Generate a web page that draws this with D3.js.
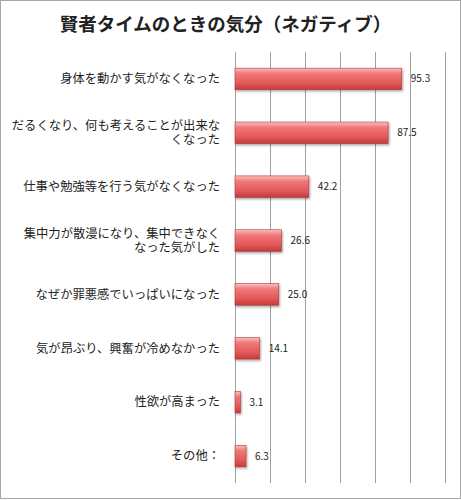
<!DOCTYPE html>
<html>
<head>
<meta charset="utf-8">
<script src="https://cdn.jsdelivr.net/npm/d3@7"></script>
<style>
  body { margin: 0; background: #fff; }
  text { font-family: "Noto Sans CJK JP", "Noto Sans", sans-serif; fill: #222; }
</style>
</head>
<body>
<div id="bar-chart"></div>
<script>
// Data
var categories = [
  ["身体を動かす気がなくなった"],
  ["だるくなり、何も考えることが出来な", "くなった"],
  ["仕事や勉強等を行う気がなくなった"],
  ["集中力が散漫になり、集中できなく", "なった気がした"],
  ["なぜか罪悪感でいっぱいになった"],
  ["気が昂ぶり、興奮が冷めなかった"],
  ["性欲が高まった"],
  ["その他："]
];
var values = [95.3, 87.5, 42.2, 26.6, 25.0, 14.1, 3.1, 6.3];
var xTicks = [0, 20, 40, 60, 80, 100, 120];
var title = "賢者タイムのときの気分（ネガティブ）";

var width = 461;
var height = 500;
var margins = { top: 52, right: 16, bottom: 17, left: 235 };
var chartWidth = width - margins.left - margins.right;
var chartHeight = height - margins.top - margins.bottom;

var svg = d3.select("#bar-chart")
  .append("svg")
  .attr("width", width)
  .attr("height", height);

// gradient for the glossy bars
var defs = svg.append("defs");
var grad = defs.append("linearGradient")
  .attr("id", "barGrad")
  .attr("x1", 0).attr("y1", 0).attr("x2", 0).attr("y2", 1);
grad.append("stop").attr("offset", "0%").attr("stop-color", "#f9c0c0");
grad.append("stop").attr("offset", "25%").attr("stop-color", "#f07878");
grad.append("stop").attr("offset", "70%").attr("stop-color", "#e35858");
grad.append("stop").attr("offset", "100%").attr("stop-color", "#c23a3a");

var shadow = defs.append("filter").attr("id", "shadow")
  .attr("x", "-20%").attr("y", "-20%").attr("width", "150%").attr("height", "160%");
shadow.append("feDropShadow")
  .attr("dx", 1).attr("dy", 1.5).attr("stdDeviation", 1)
  .attr("flood-color", "#000").attr("flood-opacity", 0.35);

// frame
svg.append("rect")
  .attr("x", 0.5).attr("y", 0.5)
  .attr("width", width - 1).attr("height", height - 2)
  .attr("fill", "none")
  .attr("stroke", "#a6a6a6");

svg.append("text")
  .attr("x", width / 2 - 5)
  .attr("y", 31)
  .attr("text-anchor", "middle")
  .attr("font-size", 18.5)
  .attr("font-weight", "bold")
  .text(title);

var chartElement = svg.append("g")
  .attr("transform", "translate(" + margins.left + "," + margins.top + ")");

var xScale = d3.scaleLinear()
  .domain([0, 120])
  .range([0, chartWidth]);

var yScale = d3.scaleBand()
  .domain(d3.range(values.length))
  .range([0, chartHeight])
  .paddingInner(0.6)
  .paddingOuter(0.3);

// grid
var xAxisGrid = d3.axisTop()
  .scale(xScale)
  .tickValues(xTicks)
  .tickSize(-chartHeight)
  .tickFormat("");

chartElement.append("g")
  .attr("class", "x grid")
  .call(xAxisGrid)
  .call(g => g.select(".domain").remove())
  .selectAll("line")
  .attr("stroke", "#a0a0a0")
  .attr("stroke-width", 1);

// bars
chartElement.append("g")
  .attr("class", "bars")
  .selectAll("rect")
  .data(values)
  .enter()
  .append("rect")
  .attr("x", xScale(0))
  .attr("y", (d, i) => yScale(i))
  .attr("width", d => xScale(d) - xScale(0))
  .attr("height", yScale.bandwidth())
  .attr("fill", "url(#barGrad)")
  .attr("stroke", "#b03a3a")
  .attr("stroke-width", 0.6)
  .attr("filter", "url(#shadow)");

// values
chartElement.append("g")
  .attr("class", "value")
  .selectAll("text")
  .data(values)
  .enter()
  .append("text")
  .attr("x", d => xScale(d) + 9)
  .attr("y", (d, i) => yScale(i) + yScale.bandwidth() / 2)
  .attr("dy", "0.35em")
  .attr("font-size", 10)
  .attr("font-family", "'DejaVu Sans', sans-serif")
  .text(d => d3.format(".1f")(d));

// category labels
var lineGap = 13.5;
var labels = chartElement.append("g")
  .attr("class", "labels")
  .selectAll("text")
  .data(categories)
  .enter()
  .append("text")
  .attr("text-anchor", "end")
  .attr("font-size", 12.3)
  .attr("x", -15)
  .attr("y", (d, i) => yScale(i) + yScale.bandwidth() / 2);

labels.selectAll("tspan")
  .data(d => d.map((line, j) => ({ line: line, j: j, n: d.length })))
  .enter()
  .append("tspan")
  .attr("x", -15)
  .attr("dy", d => d.j === 0 ? (4.3 - (d.n - 1) * lineGap / 2) : lineGap)
  .text(d => d.line);
</script>
</body>
</html>
